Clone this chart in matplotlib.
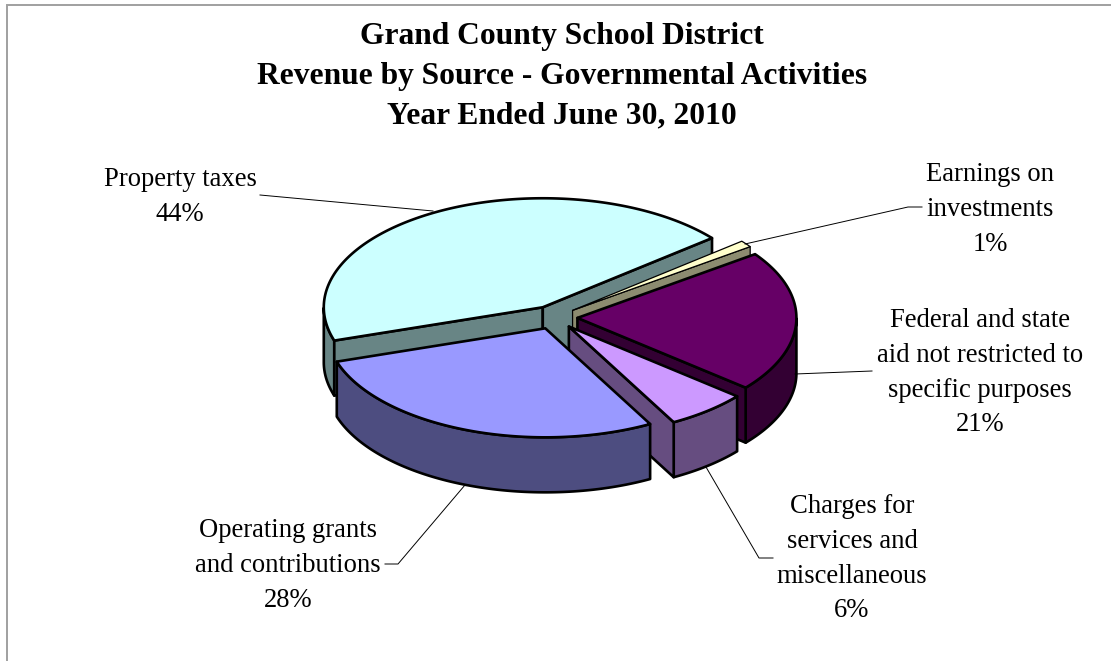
# Revenue by source - exploded 3D style pie for Grand County School District
import numpy as np
import matplotlib
matplotlib.use("Agg")
import matplotlib.pyplot as plt
from matplotlib.patches import Polygon

title_lines = ["Grand County School District",
               "Revenue by Source - Governmental Activities",
               "Year Ended June 30, 2010"]

# slices run clockwise from the start angle
names = [["Property taxes"],
         ["Earnings on", "investments"],
         ["Federal and state", "aid not restricted to", "specific purposes"],
         ["Charges for", "services and", "miscellaneous"],
         ["Operating grants", "and contributions"]]
values = [44, 1, 21, 6, 28]

top_colors = ["#CCFFFF", "#FFFFCC", "#660066", "#CC99FF", "#9999FF"]
side_colors = ["#688585", "#8C8C70", "#330033", "#664D80", "#4D4D80"]
edge_widths = [1.9, 0.9, 1.9, 1.9, 1.9]

# label placement: center x, first baseline
label_x = [180, 990, 980, 852, 288]
label_y = [186, 181, 327, 513, 537]
line_gap = 34.8

# leader lines for each label
leaders = [[(260, 195), (433, 211)],
           [(922, 207), (908, 207), (745, 244)],
           [(872, 371), (795, 374)],
           [(773, 558), (759, 558), (706, 467)],
           [(385, 564), (398, 564), (465, 485)]]

# pie geometry in pixels
cx, cy = 554, 317.5
rx, ry = 219, 109
depth = 55
explode = 0.107
start_angle = 197.8

plt.rcParams['font.family'] = ['Liberation Serif', 'DejaVu Serif']

fig = plt.figure(figsize=(11.11, 6.61), dpi=100)
ax = fig.add_axes([0, 0, 1, 1])
ax.set_xlim(0, 1111)
ax.set_ylim(661, 0)
ax.axis('off')

# chart frame, only top and left edges show
ax.plot([7, 7, 1111], [661, 5, 5], color='#A0A0A0', lw=1.4, solid_joinstyle='miter')


def rim(apex, theta):
    t = np.radians(theta)
    return np.column_stack([apex[0] + rx * np.cos(t), apex[1] - ry * np.sin(t)])


def add_face(pts, color, lw):
    ax.add_patch(Polygon(pts, closed=True, facecolor=color, edgecolor='black',
                         lw=lw, joinstyle='round'))


angle = start_angle
for i in range(len(values)):
    hi = angle
    lo = angle - values[i] * 3.6
    angle = lo
    mid = np.radians((hi + lo) / 2)
    apex = (cx + explode * rx * np.cos(mid), cy - explode * ry * np.sin(mid))
    theta = np.linspace(hi, lo, 200)
    lw = edge_widths[i]

    # outer wall, front half only
    front = theta[np.sin(np.radians(theta)) <= 0]
    if len(front) > 1:
        upper = rim(apex, front)
        lower = upper[::-1] + [0, depth]
        add_face(np.vstack([upper, lower]), side_colors[i], lw)

    # cut faces that turn toward the viewer
    for edge, visible in [(hi, np.cos(np.radians(hi)) < 0), (lo, np.cos(np.radians(lo)) > 0)]:
        if visible:
            end = rim(apex, np.array([edge]))[0]
            add_face([apex, end, end + [0, depth], (apex[0], apex[1] + depth)], side_colors[i], lw)

    add_face(np.vstack([[apex], rim(apex, theta)]), top_colors[i], lw)

# labels and leaders
for i in range(len(values)):
    lines = names[i] + [f"{values[i]}%"]
    for j, line in enumerate(lines):
        ax.text(label_x[i], label_y[i] + j * line_gap, line, fontsize=19.2,
                ha='center', va='baseline', color='black')
    xs, ys = zip(*leaders[i])
    ax.plot(xs, ys, color='black', lw=0.7)

title_y = [44, 84, 123]
for line, y in zip(title_lines, title_y):
    ax.text(562, y, line, fontsize=22.7, fontweight='bold', ha='center', va='baseline')

fig.savefig("out.png", dpi=100)
